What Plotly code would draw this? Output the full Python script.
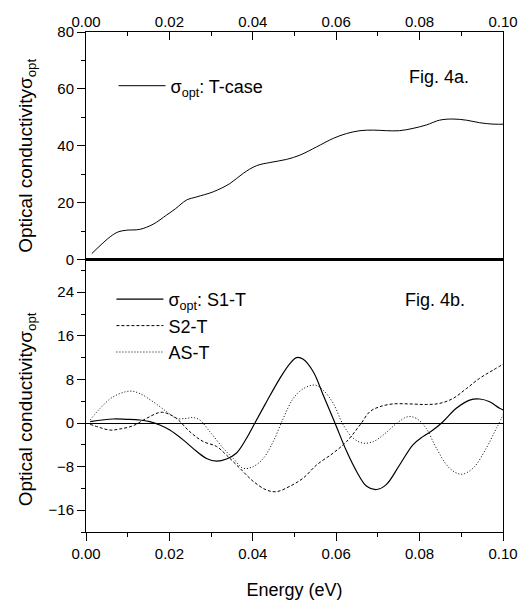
import plotly.graph_objects as go

# ---- data ----
t_x = [0.0014, 0.0058, 0.0077, 0.0097, 0.0129, 0.0161, 0.0193, 0.0215, 0.0241, 0.0265, 0.0305,
       0.0345, 0.0377, 0.0409, 0.0441, 0.0481, 0.0513, 0.0553, 0.0593, 0.0625, 0.0657, 0.0689,
       0.0720, 0.0752, 0.0784, 0.0816, 0.0848, 0.0880, 0.0912, 0.0944, 0.0976, 0.1008]
t_y = [2.1, 8.0, 9.7, 10.3, 10.6, 12.4, 15.6, 17.9, 20.9, 22.0, 23.8,
       26.7, 30.3, 33.0, 34.1, 35.2, 36.7, 39.6, 42.6, 44.3, 45.3, 45.5,
       45.3, 45.3, 46.1, 47.3, 49.0, 49.4, 49.0, 48.1, 47.6, 47.6]

s1_x = [0.0010, 0.0065, 0.0097, 0.0129, 0.0153, 0.0177, 0.0201, 0.0233, 0.0265, 0.0289, 0.0313,
        0.0337, 0.0361, 0.0385, 0.0405, 0.0433, 0.0465, 0.0489, 0.0505, 0.0521, 0.0545, 0.0569,
        0.0597, 0.0625, 0.0649, 0.0673, 0.0697, 0.0720, 0.0752, 0.0784, 0.0808, 0.0832, 0.0856,
        0.0888, 0.0920, 0.0944, 0.0968, 0.0992, 0.1012]
s1_y = [0.24, 0.73, 0.67, 0.55, 0.24, -0.37, -1.3, -3.1, -5.2, -6.5, -7.0,
        -6.6, -5.5, -2.8, 0.0, 3.9, 8.2, 10.9, 12.0, 11.7, 9.4, 5.1,
        0.0, -5.2, -8.9, -11.6, -12.2, -11.3, -7.7, -4.0, -2.5, -1.3, 0.24,
        2.7, 4.2, 4.4, 3.9, 2.7, 2.1]

s2_x = [0.0010, 0.0034, 0.0058, 0.0081, 0.0113, 0.0145, 0.0177, 0.0193, 0.0217, 0.0249, 0.0281,
        0.0313, 0.0337, 0.0369, 0.0401, 0.0433, 0.0457, 0.0489, 0.0521, 0.0553, 0.0593, 0.0625,
        0.0657, 0.0681, 0.0705, 0.0736, 0.0776, 0.0816, 0.0848, 0.0880, 0.0912, 0.0944, 0.0976,
        0.1012]
s2_y = [-0.24, -0.85, -1.3, -1.1, -0.5, 0.85, 1.95, 1.8, 0.85, -1.6, -3.4,
        -4.3, -5.9, -8.3, -10.7, -12.3, -12.6, -11.6, -10.1, -7.7, -5.5, -3.4,
        -0.37, 2.1, 3.0, 3.5, 3.5, 3.4, 3.6, 4.5, 6.3, 8.2, 9.7,
        11.3]

as_x = [0.0010, 0.0034, 0.0065, 0.0105, 0.0129, 0.0161, 0.0193, 0.0217, 0.0241, 0.0257, 0.0273,
        0.0297, 0.0329, 0.0353, 0.0377, 0.0401, 0.0425, 0.0449, 0.0473, 0.0497, 0.0521, 0.0549,
        0.0569, 0.0593, 0.0617, 0.0641, 0.0665, 0.0689, 0.0713, 0.0745, 0.0772, 0.0792, 0.0816,
        0.0840, 0.0872, 0.0900, 0.0928, 0.0960, 0.0984, 0.1008]
as_y = [0.55, 2.7, 4.8, 5.85, 5.4, 3.9, 2.1, 0.85, 0.85, 1.0, 0.55,
        -1.6, -4.6, -6.5, -8.3, -8.0, -6.5, -3.4, 0.85, 4.5, 6.3, 6.95,
        6.0, 3.6, -0.37, -2.8, -3.7, -3.4, -2.2, -0.06, 1.15, 0.85, -1.0,
        -4.6, -8.3, -9.4, -8.3, -4.6, -1.0, 2.7]

x_ticks = [0.00, 0.02, 0.04, 0.06, 0.08, 0.10]
top_yticks = [0, 20, 40, 60, 80]
bot_yticks = [-16, -8, 0, 8, 16, 24]

FONT = "Liberation Sans, Arial, sans-serif"
BLACK = "#000000"
BOUNDARY = 0.545

fig = go.Figure()
fig.add_trace(go.Scatter(x=t_x, y=t_y, mode="lines", line=dict(color=BLACK, width=1, shape="spline"),
                         name="σ<sub>opt</sub>: T-case", xaxis="x", yaxis="y", legend="legend"))
fig.add_trace(go.Scatter(x=s1_x, y=s1_y, mode="lines", line=dict(color=BLACK, width=1.2, shape="spline"),
                         name="σ<sub>opt</sub>: S1-T", xaxis="x2", yaxis="y2", legend="legend2"))
fig.add_trace(go.Scatter(x=s2_x, y=s2_y, mode="lines",
                         line=dict(color=BLACK, width=1, shape="spline", dash="3px,2px"),
                         name="S2-T", xaxis="x2", yaxis="y2", legend="legend2"))
fig.add_trace(go.Scatter(x=as_x, y=as_y, mode="lines",
                         line=dict(color=BLACK, width=1, shape="spline", dash="1px,2px"),
                         name="AS-T", xaxis="x2", yaxis="y2", legend="legend2"))

axis_common = dict(showgrid=False, showline=True, linecolor=BLACK, linewidth=1,
                   tickcolor=BLACK, tickwidth=1, ticklen=8, automargin=False,
                   tickfont=dict(family=FONT, size=15, color=BLACK))

fig.update_layout(
    width=523, height=601,
    margin=dict(l=86, r=20, t=32, b=69),
    paper_bgcolor="white", plot_bgcolor="white",
    font=dict(family=FONT, color=BLACK),
    xaxis=dict(axis_common, domain=[0, 1], anchor="y", side="top", range=[0, 0.1],
               tickvals=x_ticks, tickformat=".2f", ticks="inside", ticklabelstandoff=-2,
               minor=dict(dtick=0.01, tick0=0, ticks="inside", ticklen=4, tickcolor=BLACK),
               zeroline=False),
    yaxis=dict(axis_common, domain=[BOUNDARY, 1], anchor="x", range=[0, 80],
               tickvals=top_yticks, ticks="outside", mirror=True,
               minor=dict(dtick=10, tick0=0, ticks="outside", ticklen=4, tickcolor=BLACK),
               zeroline=False),
    xaxis2=dict(axis_common, domain=[0, 1], anchor="y2", side="bottom", range=[0, 0.1],
                tickvals=x_ticks, tickformat=".2f", ticks="outside",
                minor=dict(dtick=0.01, tick0=0, ticks="outside", ticklen=4, tickcolor=BLACK),
                zeroline=False,
                title=dict(text="Energy (eV)", font=dict(family=FONT, size=18, color=BLACK), standoff=22)),
    yaxis2=dict(axis_common, domain=[0, BOUNDARY], anchor="x2", range=[-20, 30],
                tickvals=bot_yticks, ticks="outside", mirror=True,
                minor=dict(dtick=4, tick0=0, ticks="outside", ticklen=4, tickcolor=BLACK),
                zeroline=True, zerolinecolor=BLACK, zerolinewidth=1),
    legend=dict(x=0.066, y=0.892, xanchor="left", yanchor="middle", bgcolor="rgba(0,0,0,0)",
                itemwidth=47,
                font=dict(family=FONT, size=18, color=BLACK)),
    legend2=dict(x=0.061, y=0.502, xanchor="left", yanchor="top", bgcolor="rgba(0,0,0,0)",
                 itemwidth=47,
                 font=dict(family=FONT, size=18, color=BLACK), tracegroupgap=0),
    showlegend=True,
)

# thick separator between the two panels
fig.add_shape(type="line", xref="paper", yref="paper", x0=0, x1=1, y0=BOUNDARY, y1=BOUNDARY,
              line=dict(color=BLACK, width=3))

ytitle = "Optical conductivityσ<sub>opt</sub>"
fig.add_annotation(text=ytitle, textangle=-90, xref="paper", yref="y domain", x=-0.1415, y=0.456,
                   xanchor="center", yanchor="middle", showarrow=False,
                   font=dict(family=FONT, size=19, color=BLACK))
fig.add_annotation(text=ytitle, textangle=-90, xref="paper", yref="y2 domain", x=-0.1415, y=0.45,
                   xanchor="center", yanchor="middle", showarrow=False,
                   font=dict(family=FONT, size=19, color=BLACK))
fig.add_annotation(text="Fig. 4a.", xref="x domain", yref="y domain", x=0.77, y=0.8,
                   xanchor="left", yanchor="middle", showarrow=False,
                   font=dict(family=FONT, size=18, color=BLACK))
fig.add_annotation(text="Fig. 4b.", xref="x2 domain", yref="y2 domain", x=0.76, y=0.85,
                   xanchor="left", yanchor="middle", showarrow=False,
                   font=dict(family=FONT, size=18, color=BLACK))

fig.write_html("out.html", config={"displayModeBar": False},
               post_script="document.body.style.margin='0';document.body.style.padding='0';")
